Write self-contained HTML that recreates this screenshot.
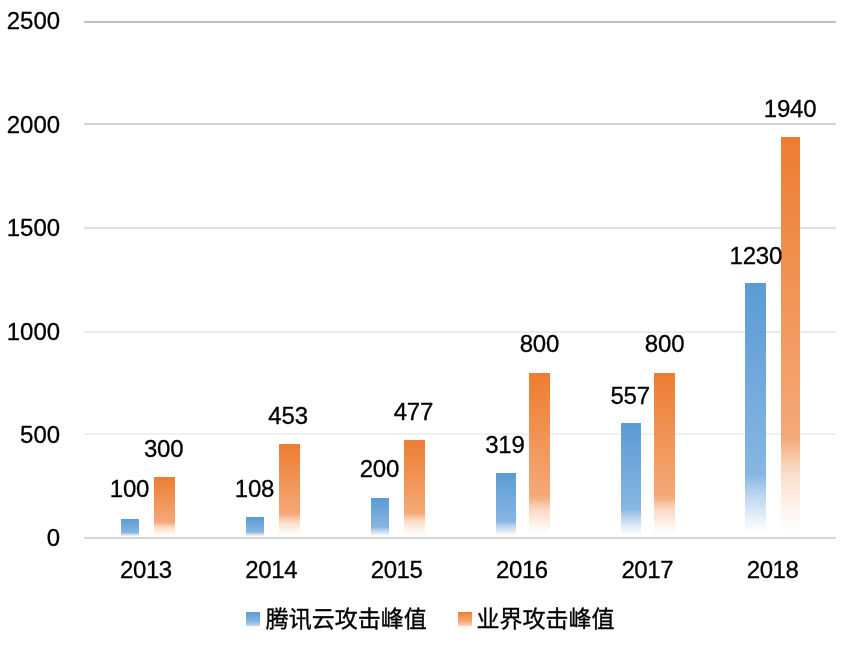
<!DOCTYPE html>
<html lang="zh-CN"><head><meta charset="utf-8"><title>攻击峰值</title>
<style>
html,body{margin:0;padding:0;background:#fff;}
body{width:856px;height:650px;position:relative;overflow:hidden;font-family:"Liberation Sans","Noto Sans CJK SC",sans-serif;color:#000;}
.g{position:absolute;left:84px;width:752px;height:2px;}
.t{position:absolute;left:0;top:0;font-size:24px;-webkit-text-stroke:0.3px #000;line-height:24px;height:24px;white-space:nowrap;}
.yl{left:0;width:60px;text-align:right;}
.xl{width:100px;text-align:center;letter-spacing:-0.4px;}
.dl{width:80px;text-align:center;letter-spacing:-0.2px;}
.b{position:absolute;}
.bb{background:linear-gradient(to bottom,#5b9bd5 0%,#87b6e2 75%,#92bde5 77.2%,#b5d1ed 82%,#c0d8f0 84.5%,#ecf3fa 93.5%,#ffffff 98.5%);}
.bo{background:linear-gradient(to bottom,#ed7d31 0%,#f4a978 75%,#f5b489 77.2%,#fad3ba 82%,#fbdecb 84.5%,#fef5ef 93.5%,#ffffff 98.5%);}
.sb{background:linear-gradient(to bottom,#5b9bd5 0%,#86b6e1 70%,#c4dbf1 100%);}
.so{background:linear-gradient(to bottom,#ed7d31 0%,#f4ab7b 70%,#fad6bf 100%);}
.lg{position:absolute;top:607px;font-size:23px;line-height:24px;height:24px;white-space:nowrap;-webkit-text-stroke:0.35px #000;}
.sq{position:absolute;top:611.5px;width:14px;height:14px;}
</style></head><body>

<div class="g" style="top:21px;background:#bfbfbf"></div>
<div class="g" style="top:123px;background:#d4d4d4"></div>
<div class="g" style="top:227px;background:#e0e0e0"></div>
<div class="g" style="top:331px;background:#ebebeb"></div>
<div class="g" style="top:433px;background:#f1f1f1"></div>
<div class="t yl" style="transform:translate(0.1px,9px)">2500</div>
<div class="t yl" style="transform:translate(0.1px,113px)">2000</div>
<div class="t yl" style="transform:translate(0.1px,216px)">1500</div>
<div class="t yl" style="transform:translate(0.1px,320px)">1000</div>
<div class="t yl" style="transform:translate(0.1px,423px)">500</div>
<div class="t yl" style="transform:translate(0.1px,526px)">0</div>
<div class="b bb" style="left:121.0px;width:18.3px;top:519.0px;height:18.0px"></div>
<div class="b bo" style="left:154.0px;width:20.8px;top:476.7px;height:60.3px"></div>
<div class="b bb" style="left:246.0px;width:18.1px;top:516.8px;height:20.2px"></div>
<div class="b bo" style="left:279.0px;width:20.8px;top:444.0px;height:93.0px"></div>
<div class="b bb" style="left:371.0px;width:18.1px;top:498.2px;height:38.8px"></div>
<div class="b bo" style="left:404.0px;width:20.8px;top:439.7px;height:97.3px"></div>
<div class="b bb" style="left:496.0px;width:20.1px;top:473.2px;height:63.8px"></div>
<div class="b bo" style="left:529.0px;width:20.8px;top:373.2px;height:163.8px"></div>
<div class="b bb" style="left:621.0px;width:20.1px;top:423.2px;height:113.8px"></div>
<div class="b bo" style="left:654.0px;width:20.8px;top:373.2px;height:163.8px"></div>
<div class="b bb" style="left:745.4px;width:20.5px;top:283.2px;height:253.8px"></div>
<div class="b bo" style="left:781.2px;width:18.6px;top:137.2px;height:399.8px"></div>
<div class="g" style="top:537px;background:#d6d6d6"></div>
<div class="t dl" style="transform:translate(89.5px,477px)">100</div>
<div class="t dl" style="transform:translate(123.7px,437px)">300</div>
<div class="t dl" style="transform:translate(214.5px,477px)">108</div>
<div class="t dl" style="transform:translate(248.1px,404px)">453</div>
<div class="t dl" style="transform:translate(339.4px,457px)">200</div>
<div class="t dl" style="transform:translate(373.4px,400px)">477</div>
<div class="t dl" style="transform:translate(464.9px,433px)">319</div>
<div class="t dl" style="transform:translate(499.4px,332px)">800</div>
<div class="t dl" style="transform:translate(590.2px,384px)">557</div>
<div class="t dl" style="transform:translate(624.6px,332px)">800</div>
<div class="t dl" style="transform:translate(715.8px,244px)">1230</div>
<div class="t dl" style="transform:translate(750.1px,97px)">1940</div>
<div class="t xl" style="transform:translate(95.9px,558px)">2013</div>
<div class="t xl" style="transform:translate(221.2px,558px)">2014</div>
<div class="t xl" style="transform:translate(346.6px,558px)">2015</div>
<div class="t xl" style="transform:translate(471.9px,558px)">2016</div>
<div class="t xl" style="transform:translate(597.3px,558px)">2017</div>
<div class="t xl" style="transform:translate(722.6px,558px)">2018</div>
<div class="sq sb" style="left:246px"></div><div class="lg" style="left:265.8px">腾讯云攻击峰值</div>
<div class="sq so" style="left:457.5px"></div><div class="lg" style="left:476.6px">业界攻击峰值</div>
</body></html>
